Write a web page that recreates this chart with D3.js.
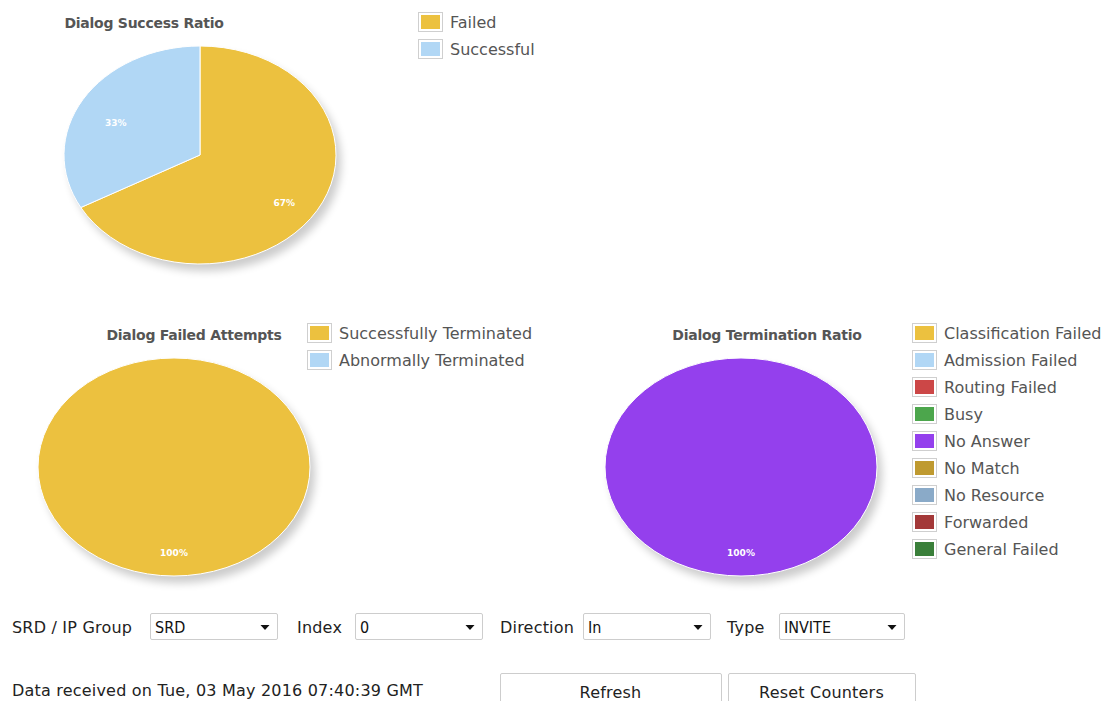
<!DOCTYPE html>
<html>
<head>
<meta charset="utf-8">
<script src="https://cdn.jsdelivr.net/npm/d3@7"></script>
<style>
  html, body { margin: 0; padding: 0; background: #fff; }
  svg { display: block; }
  .title { font: bold 14px "DejaVu Sans", Verdana, sans-serif; fill: #555; letter-spacing: -0.25px; }
  .legend { font: 16px "DejaVu Sans", Verdana, sans-serif; fill: #555; }
  .pct { font: bold 9px "DejaVu Sans", Verdana, sans-serif; fill: #fff; }
  .ctl { font: 16px "DejaVu Sans", Verdana, sans-serif; fill: #222; letter-spacing: 0.2px; }
  .sel { font: 16px "DejaVu Sans Condensed", "DejaVu Sans", sans-serif; fill: #111; }
</style>
</head>
<body>
<svg id="chart" width="1108" height="701"></svg>
<script>
// ---- data ----
const successCats = ["Failed", "Successful"];
const successVals = [67, 33];
const successColors = ["#ecc13f", "#b1d7f5"];

const failedCats = ["Successfully Terminated", "Abnormally Terminated"];
const failedVals = [100, 0];
const failedColors = ["#ecc13f", "#b1d7f5"];

const termCats = ["Classification Failed", "Admission Failed", "Routing Failed", "Busy",
  "No Answer", "No Match", "No Resource", "Forwarded", "General Failed"];
const termVals = [0, 0, 0, 0, 100, 0, 0, 0, 0];
const termColors = ["#ecc13f", "#b1d7f5", "#cc4747", "#4ca64c", "#9440ed",
  "#bf9a30", "#8aaac8", "#a33838", "#3a7f3a"];

const filterLabels = ["SRD / IP Group", "Index", "Direction", "Type"];
const filterValues = ["SRD", "0", "In", "INVITE"];
const statusText = "Data received on Tue, 03 May 2016 07:40:39 GMT";
const buttonLabels = ["Refresh", "Reset Counters"];

const svg = d3.select("#chart");

// soft drop shadow under each pie
const defs = svg.append("defs");
defs.append("filter").attr("id", "pieShadow")
  .attr("x", "-20%").attr("y", "-20%").attr("width", "140%").attr("height", "140%")
  .append("feGaussianBlur").attr("stdDeviation", 4);

function drawPie(opts) {
  const { cx, cy, rx, ry, cats, vals, colors, title, titleX, titleY, legX, legY } = opts;
  const total = d3.sum(vals);
  const pie = d3.pie().sort(null).value(d => d.v);
  const data = pie(cats.map((c, i) => ({ c, v: vals[i], col: colors[i] })));
  const arc = d3.arc().innerRadius(0).outerRadius(rx);
  const sy = ry / rx;

  const g = svg.append("g");
  g.append("ellipse")
    .attr("cx", cx + 5).attr("cy", cy + 7).attr("rx", rx).attr("ry", ry)
    .attr("fill", "#000").attr("opacity", 0.2)
    .attr("filter", "url(#pieShadow)");

  const pg = g.append("g").attr("transform", `translate(${cx},${cy}) scale(1,${sy})`);
  pg.selectAll("path").data(data.filter(d => d.data.v > 0)).join("path")
    .attr("d", arc)
    .attr("fill", d => d.data.col)
    .attr("stroke", "#fff")
    .attr("stroke-width", 1)
    .attr("vector-effect", "non-scaling-stroke");

  // percentage labels
  g.selectAll("text.pct").data(data.filter(d => d.data.v > 0)).join("text")
    .attr("class", "pct")
    .attr("text-anchor", "middle")
    .attr("x", d => {
      const a = (d.startAngle + d.endAngle) / 2;
      return cx + Math.sin(a) * rx * 0.72;
    })
    .attr("y", d => {
      const a = (d.startAngle + d.endAngle) / 2;
      return cy - Math.cos(a) * ry * 0.72 + 11;
    })
    .text(d => Math.round(d.data.v / total * 100) + "%");

  svg.append("text").attr("class", "title")
    .attr("x", titleX).attr("y", titleY).attr("text-anchor", "middle").text(title);

  const lg = svg.append("g").attr("transform", `translate(${legX},${legY})`);
  const rows = lg.selectAll("g").data(cats).join("g")
    .attr("transform", (d, i) => `translate(0,${i * 27})`);
  rows.append("rect").attr("x", 0.5).attr("y", 0.5).attr("width", 24).attr("height", 19)
    .attr("fill", "#fff").attr("stroke", "#cfcfcf");
  rows.append("rect").attr("x", 3).attr("y", 3).attr("width", 19).attr("height", 14)
    .attr("fill", (d, i) => colors[i]);
  rows.append("text").attr("class", "legend").attr("x", 32).attr("y", 16).text(d => d);
}

drawPie({ cx: 200, cy: 155, rx: 136, ry: 109, cats: successCats, vals: successVals,
  colors: successColors, title: "Dialog Success Ratio", titleX: 144, titleY: 28,
  legX: 418, legY: 12 });
drawPie({ cx: 174, cy: 467, rx: 136, ry: 109, cats: failedCats, vals: failedVals,
  colors: failedColors, title: "Dialog Failed Attempts", titleX: 194, titleY: 340,
  legX: 307, legY: 323 });
drawPie({ cx: 741, cy: 467, rx: 136, ry: 109, cats: termCats, vals: termVals,
  colors: termColors, title: "Dialog Termination Ratio", titleX: 767, titleY: 340,
  legX: 912, legY: 323 });

// ---- filter controls ----
const labelX = [12, 297, 500, 727];
const boxX = [150, 355, 583, 779];
const boxW = [127, 127, 127, 125];
const ctl = svg.append("g");
filterLabels.forEach((lab, i) => {
  ctl.append("text").attr("class", "ctl").attr("x", labelX[i]).attr("y", 633).text(lab);
  ctl.append("rect").attr("x", boxX[i] + 0.5).attr("y", 613.5).attr("width", boxW[i])
    .attr("height", 26).attr("rx", 1.5).attr("fill", "#fff").attr("stroke", "#cdcdcd");
  ctl.append("text").attr("class", "sel").attr("x", boxX[i] + 5).attr("y", 633)
    .text(filterValues[i]);
  // dropdown arrow
  const ax = boxX[i] + boxW[i] - 12;
  ctl.append("path")
    .attr("d", `M${ax - 4.5},${625} L${ax + 4.5},${625} L${ax},${630} Z`)
    .attr("fill", "#111");
});

svg.append("text").attr("class", "ctl").attr("x", 12).attr("y", 696).text(statusText);

const btnX = [500, 728];
const btnW = [221, 187];
buttonLabels.forEach((b, i) => {
  svg.append("rect").attr("x", btnX[i] + 0.5).attr("y", 673.5).attr("width", btnW[i])
    .attr("height", 40).attr("rx", 1.5).attr("fill", "#fff").attr("stroke", "#cdcdcd");
  svg.append("text").attr("class", "ctl").attr("x", btnX[i] + btnW[i] / 2).attr("y", 698)
    .attr("text-anchor", "middle").text(b);
});
</script>
</body>
</html>
